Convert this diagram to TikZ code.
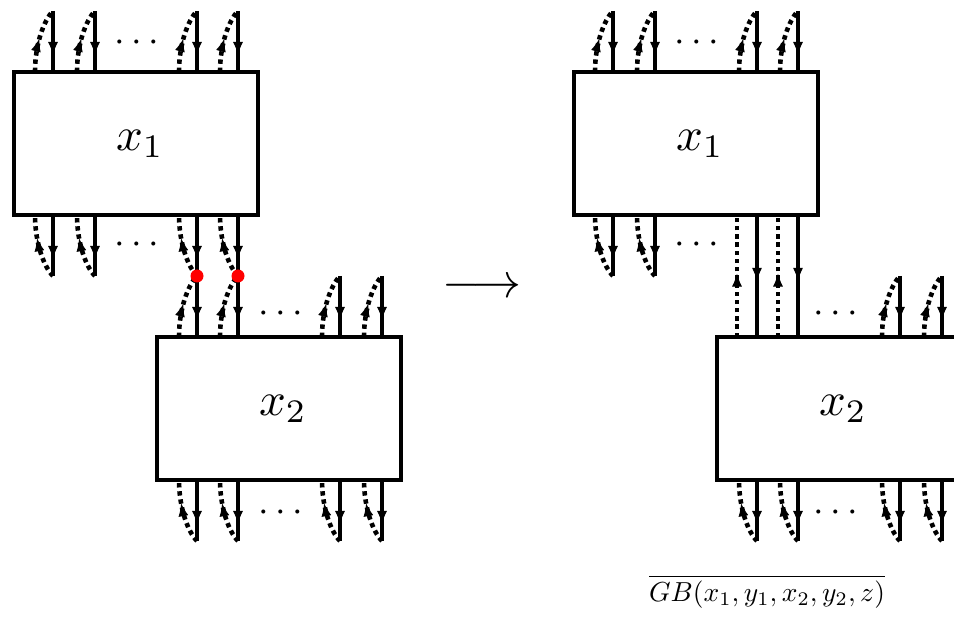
\documentclass[tikz,border=0pt]{standalone}
\usetikzlibrary{arrows.meta,decorations.markings,calc}
\tikzset{
  boxnode/.style={draw,line width=4.5pt,minimum width=244pt,minimum height=143pt,inner sep=0pt,outer sep=0pt},
  tipmark/.style={postaction={decorate},decoration={markings,mark=at position #1 with {\arrow{Latex[length=13pt,width=10pt,line width=1pt]}}}},
  solidwire/.style={line width=4.5pt,tipmark=#1},
  dotwire/.style={line width=4.6pt,dash pattern=on 4.4pt off 3.8pt,tipmark=#1},
  reddot/.style={circle,fill=red,minimum size=13pt,inner sep=0pt},
  ellip/.style={inner sep=0pt,anchor=base},
  biglabel/.style={inner sep=0pt,anchor=base},
  gblabel/.style={inner sep=0pt,anchor=base},
  boxlabel/.style={inner sep=0pt,xshift=4pt},
}
\newcommand\bigmath[1]{\scalebox{4.7}{$#1$}}
\newcommand\dotsmath{\scalebox{3.8}{$\cdots$}}
% #1 box, #2 offset from west side, #3 index
\newcommand\mytopwire[3]{%
  \path (#1.north west) ++(#2,0) coordinate (#1-t#3) ++(0,-61) coordinate (#1-te#3);
  \path (#1-t#3) ++(-18,0) coordinate (#1-tc#3);
  \draw[solidwire=0.72] (#1-te#3) -- (#1-t#3);
  \draw[dotwire=0.52] (#1-tc#3) .. controls +(0,-28) and +(-9,9) .. (#1-te#3);
}
\newcommand\mybotwire[3]{%
  \path (#1.south west) ++(#2,0) coordinate (#1-b#3) ++(0,61) coordinate (#1-be#3);
  \path (#1-b#3) ++(-18,0) coordinate (#1-bc#3);
  \draw[solidwire=0.72] (#1-b#3) -- (#1-be#3);
  \draw[dotwire=0.64] (#1-be#3) .. controls +(-9,-9) and +(0,28) .. (#1-bc#3);
}
\begin{document}
\begin{tikzpicture}[x=1pt,y=-1pt]
\useasboundingbox (0,0) rectangle (954,620);
\clip (0,0) rectangle (954,620);

% ---------- left diagram ----------
\node[boxnode] (L1) at (136,143.5) {};
\node[boxnode] (L2) at (279,408.5) {};
\node[boxlabel] (L1l) at (L1.center) {\bigmath{x_1}};
\node[boxlabel] (L2l) at (L2.center) {\bigmath{x_2}};
\mytopwire{L1}{39}{1}\mytopwire{L1}{81}{2}\mytopwire{L1}{183}{3}\mytopwire{L1}{224}{4}
\mybotwire{L1}{39}{1}\mybotwire{L1}{81}{2}\mybotwire{L1}{183}{3}\mybotwire{L1}{224}{4}
\mytopwire{L2}{40}{1}\mytopwire{L2}{81}{2}\mytopwire{L2}{183}{3}\mytopwire{L2}{225}{4}
\mybotwire{L2}{40}{1}\mybotwire{L2}{81}{2}\mybotwire{L2}{183}{3}\mybotwire{L2}{225}{4}
\node[reddot] (r1) at (L1-be3) {};
\node[reddot] (r2) at (L1-be4) {};
\node[ellip] (d1) at (137,51.5) {\dotsmath};
\node[ellip] (d2) at (137,253.5) {\dotsmath};
\node[ellip] (d3) at (281,322.5) {\dotsmath};
\node[ellip] (d4) at (281,521.5) {\dotsmath};

% ---------- arrow ----------
\node[biglabel] (arr) at (482,298) {\scalebox{4.9}{$\longrightarrow$}};

% ---------- right diagram ----------
\begin{scope}[xshift=560pt]
\node[boxnode] (R1) at (136,143.5) {};
\node[boxnode] (R2) at (279,408.5) {};
\node[boxlabel] (R1l) at (R1.center) {\bigmath{x_1}};
\node[boxlabel] (R2l) at (R2.center) {\bigmath{x_2}};
\mytopwire{R1}{39}{1}\mytopwire{R1}{81}{2}\mytopwire{R1}{183}{3}\mytopwire{R1}{224}{4}
\mybotwire{R1}{39}{1}\mybotwire{R1}{81}{2}
\path (R1.south west) ++(183,0) coordinate (R1-b3);
\path (R1.south west) ++(224,0) coordinate (R1-b4);
\path (R1.south west) ++(163,0) coordinate (R1-c3);
\path (R1.south west) ++(204,0) coordinate (R1-c4);
\path (R2.north west) ++(40,0) coordinate (R2-t1);
\path (R2.north west) ++(81,0) coordinate (R2-t2);
\path (R2.north west) ++(20,0) coordinate (R2-c1);
\path (R2.north west) ++(61,0) coordinate (R2-c2);
\draw[solidwire=0.54] (R1-b3) -- (R2-t1);
\draw[solidwire=0.54] (R1-b4) -- (R2-t2);
\draw[dotwire=0.52] (R2-c1) -- (R1-c3);
\draw[dotwire=0.52] (R2-c2) -- (R1-c4);
\mytopwire{R2}{183}{3}\mytopwire{R2}{225}{4}
\mybotwire{R2}{40}{1}\mybotwire{R2}{81}{2}\mybotwire{R2}{183}{3}\mybotwire{R2}{225}{4}
\node[ellip] (e1) at (137,51.5) {\dotsmath};
\node[ellip] (e2) at (137,253.5) {\dotsmath};
\node[ellip] (e3) at (276,322.5) {\dotsmath};
\node[ellip] (e4) at (276,521.5) {\dotsmath};
\node[gblabel] (gb) at (207,601) {\scalebox{2.75}{$\overline{GB(x_1,y_1,x_2,y_2,z)}$}};
\end{scope}
\end{tikzpicture}
\end{document}
